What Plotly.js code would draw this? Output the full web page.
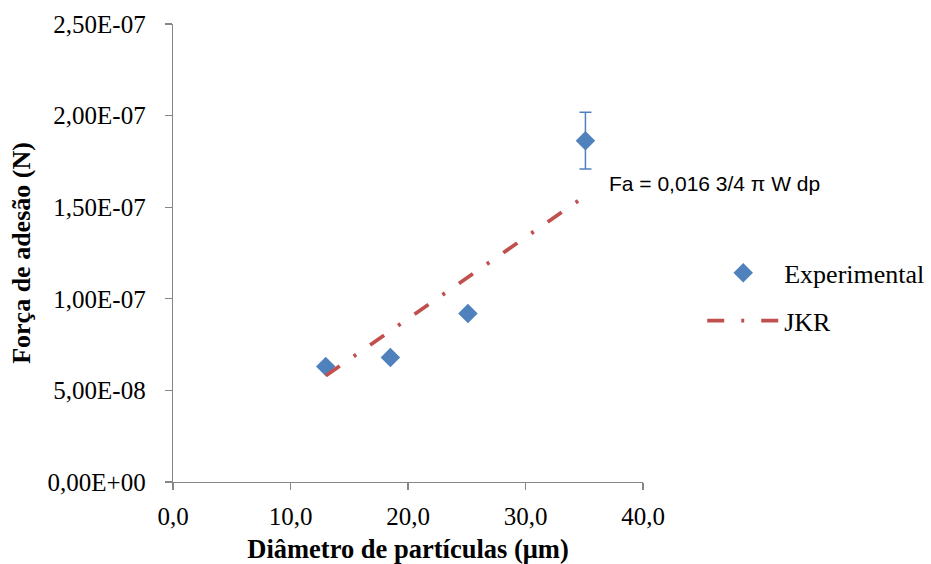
<!DOCTYPE html>
<html>
<head>
<meta charset="utf-8">
<script src="https://cdn.plot.ly/plotly-3.0.1.min.js"></script>
<style>html,body{margin:0;padding:0;background:#fff;}#chart{width:931px;height:564px;}</style>
</head>
<body>
<div id="chart"></div>
<script>
// Data
var expDiameter = [13.0, 18.5, 25.1, 35.1];
var expForce = [6.3e-8, 6.8e-8, 9.2e-8, 1.863e-7];
var expError = [0, 0, 0, 1.55e-8];
var jkrDiameter = [13.0, 18.5, 25.1, 35.1];
var jkrForce = [5.8e-8, 8.23e-8, 1.117e-7, 1.562e-7];
var xTickVals = [0, 10, 20, 30, 40];
var xTickText = ["0,0", "10,0", "20,0", "30,0", "40,0"];
var yTickVals = [0, 5e-8, 1e-7, 1.5e-7, 2e-7, 2.5e-7];
var yTickText = ["0,00E+00", "5,00E-08", "1,00E-07", "1,50E-07", "2,00E-07", "2,50E-07"];
var equationText = "Fa = 0,016 3/4 \u03c0 W dp";

var serif = "Liberation Serif, Times New Roman, serif";

var traces = [
  {
    x: expDiameter, y: expForce, type: "scatter", mode: "markers", name: "Experimental",
    legendgroup: "a",
    marker: {symbol: "diamond", size: 15, color: "#4F81BD"},
    error_y: {type: "data", array: expError, visible: true, color: "#4F81BD", thickness: 1.5, width: 6}
  },
  {
    x: jkrDiameter, y: jkrForce, type: "scatter", mode: "lines", name: "JKR",
    legendgroup: "b",
    line: {color: "#C0504D", width: 3.8, dash: "17px,17px,3px,17px"}
  }
];

var axisCommon = {
  showgrid: false, zeroline: false, showline: true, linecolor: "#868686", linewidth: 1.3,
  ticks: "outside", ticklen: 7, tickcolor: "#868686", tickwidth: 1.3,
  tickfont: {family: serif, size: 25, color: "#000"}
};

var layout = {
  width: 931, height: 564,
  margin: {l: 173, r: 288, t: 24, b: 82, autoexpand: false},
  paper_bgcolor: "#fff", plot_bgcolor: "#fff",
  showlegend: true,
  legend: {x: 1.126, y: 0.404, xanchor: "left", yanchor: "middle", traceorder: "grouped", tracegroupgap: 11,
           font: {family: serif, size: 26, color: "#000"}, bgcolor: "rgba(0,0,0,0)", itemwidth: 72},
  xaxis: Object.assign({}, axisCommon, {
    range: [0, 40], tickvals: xTickVals, ticktext: xTickText, ticklabelstandoff: 5,
    title: {text: "<b>Diâmetro de partículas (μm)</b>", font: {family: serif, size: 26.5, color: "#000"}}
  }),
  yaxis: Object.assign({}, axisCommon, {
    range: [0, 2.5e-7], tickvals: yTickVals, ticktext: yTickText, ticklabelstandoff: 14,
    title: {text: "<b>Força de adesão (N)</b>", standoff: 9, font: {family: serif, size: 26, color: "#000"}}
  }),
  annotations: [{
    x: 36.9, y: 1.632e-7, xref: "x", yref: "y", text: equationText, showarrow: false,
    xanchor: "left", yanchor: "middle", font: {family: "Liberation Sans, Arial, sans-serif", size: 21, color: "#000"}
  }]
};

Plotly.newPlot("chart", traces, layout, {displayModeBar: false, staticPlot: true});
</script>
</body>
</html>
